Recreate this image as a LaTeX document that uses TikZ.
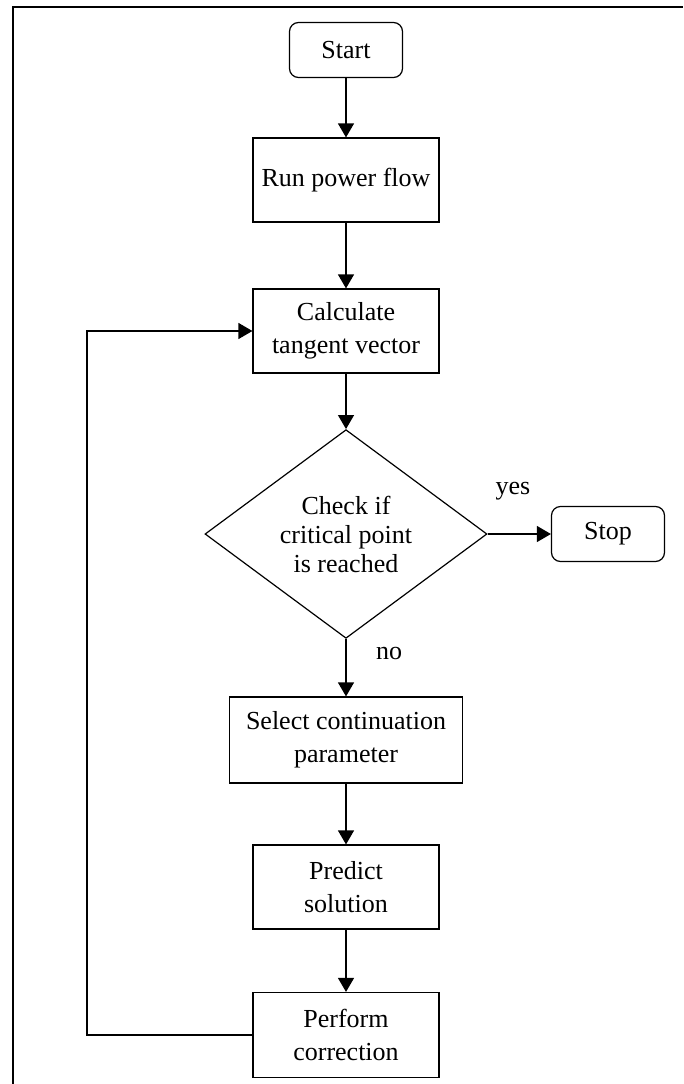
\documentclass[tikz,border=0pt]{standalone}
\usepackage{fontspec}
\setmainfont{Liberation Serif}
\usetikzlibrary{shapes.geometric,arrows.meta}

\begin{document}
\begin{tikzpicture}[x=1pt,y=-1pt,font=\fontsize{26}{33}\selectfont]
	\tikzset{>={Triangle[width=16pt,length=14pt]}}
	\tikzset{proc/.style={draw,line width=1.2pt,align=center,minimum width=186pt,minimum height=84pt,inner sep=0pt}}
	\tikzset{term/.style={draw,line width=1.2pt,rounded corners=9pt,minimum width=113pt,minimum height=55pt,inner sep=0pt}}
	\tikzset{check/.style={draw,diamond,line width=1.2pt,align=center,minimum width=282pt,minimum height=193pt,inner sep=0pt}}
	\useasboundingbox (0,0) rectangle (683,1084);

	% frame
	\draw[line width=2pt] (13,1084) -- (13,7) -- (683,7);

	\node[term] (start) at (346,50) {Start};
	\node[proc] (run) at (346,180) {Run power flow};
	\node[proc] (calc) at (346,331) {Calculate\\tangent vector};
	\node[check,font=\fontsize{26}{29}\selectfont] (crit) at (346,534) {Check if\\critical point\\is reached};
	\node[term] (stop) at (608,534) {Stop};
	\node[proc,minimum width=233pt,minimum height=86pt] (select) at (346,740) {Select continuation\\parameter};
	\node[proc] (predict) at (346,887) {Predict\\solution};
	\node[proc,minimum height=85pt] (correct) at (346,1035) {Perform\\correction};
	\node (yes) at (513,491) {yes};
	\node (no) at (389,653) {no};
	\coordinate (back) at (87,1035);

	\draw[->,line width=1.2pt] (start) -- (run);
	\draw[->,line width=1.2pt] (run) -- (calc);
	\draw[->,line width=1.2pt] (calc) -- (crit);
	\draw[->,line width=1.2pt] (crit) -- (stop);
	\draw[->,line width=1.2pt] (crit) -- (select);
	\draw[->,line width=1.2pt] (select) -- (predict);
	\draw[->,line width=1.2pt] (predict) -- (correct);
	\draw[->,line width=1.2pt] (correct.west) -- (back) |- (calc.west);
\end{tikzpicture}
\end{document}
